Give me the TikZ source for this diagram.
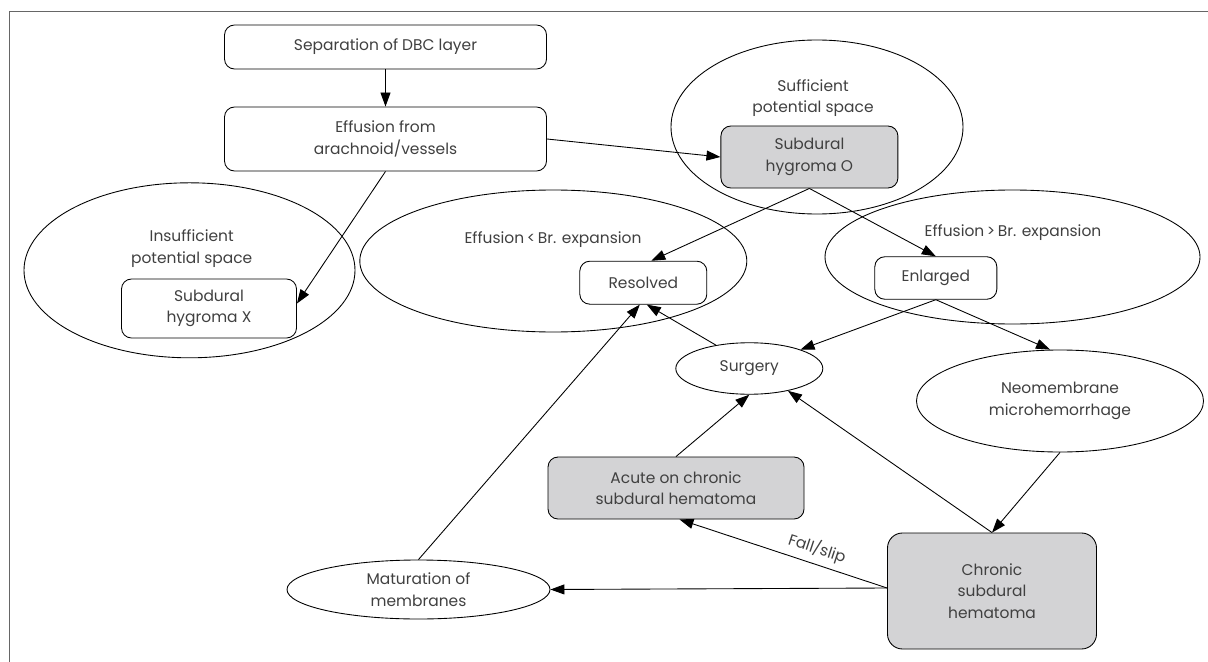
\documentclass[tikz,border=0pt]{standalone}
\usepackage{fontspec}
\setmainfont{Poppins}
\usetikzlibrary{shapes.geometric,arrows.meta}

\definecolor{boxgray}{RGB}{211,211,213}
\definecolor{txtgray}{RGB}{64,64,64}

\begin{document}
\begin{tikzpicture}[x=0.2mm,y=-0.2mm,line width=0.5pt,
   every node/.style={font=\fontsize{8.8}{12.3}\selectfont,text=txtgray,align=center},
   box/.style={draw,rounded corners=2mm,fill=white,inner sep=0pt},
   graybox/.style={box,fill=boxgray},
   oval/.style={draw,ellipse,inner sep=0pt},
   arr/.style={-{Triangle[length=2.8mm,width=2mm]}}]
   \useasboundingbox (0,0) rectangle (1208,662);
   \draw [gray!80!black] (1208,11) -- (9,11) -- (9,662);
   % regions
   \node [oval,minimum width=66.2mm,minimum height=35mm] (insuf) at (189.5,270.3) {};
   \node at (191.7,248.5) (insuftxt) {Insufficient\\potential space};
   \node [oval,minimum width=77.4mm,minimum height=28.4mm] (less) at (553.3,261) {};
   \node at (553,240) (lesstxt) {Effusion\,<\,Br. expansion};
   \node [oval,minimum width=58.4mm,minimum height=34.8mm] (suf) at (817,127) {};
   \node at (813,98) (suftxt) {Sufficient\\potential space};
   \node [oval,minimum width=75mm,minimum height=26.8mm] (more) at (1012.5,257) {};
   \node at (1013,233) (moretxt) {Effusion\,>\,Br. expansion};
   % boxes
   \node [box,minimum width=64.4mm,minimum height=8.8mm] (sep) at (385.5,47) {Separation of DBC layer};
   \node [box,minimum width=64.4mm,minimum height=12.8mm] (eff) at (385.5,139) {Effusion from\\arachnoid/vessels};
   \node [box,minimum width=35mm,minimum height=11.8mm] (hygX) at (209,308.5) {Subdural\\hygroma X};
   \node [graybox,minimum width=35.4mm,minimum height=12.4mm] (hygO) at (809.4,157) {Subdural\\hygroma O};
   \node [box,minimum width=25.4mm,minimum height=8.6mm] (res) at (643.3,282.7) {Resolved};
   \node [box,minimum width=24.4mm,minimum height=8.5mm] (enl) at (935.8,278) {Enlarged};
   \node [oval,minimum width=29.4mm,minimum height=10.3mm] (surg) at (749.3,368.5) {Surgery};
   \node [oval,minimum width=57.4mm,minimum height=20.4mm] (neo) at (1060,401) {Neomembrane\\microhemorrhage};
   \node [graybox,minimum width=51.2mm,minimum height=12.4mm] (acute) at (676,488) {Acute on chronic\\subdural hematoma};
   \node [graybox,rounded corners=3mm,minimum width=41.8mm,minimum height=23.2mm] (chr) at (992,591) {Chronic\\subdural\\hematoma};
   \node [oval,minimum width=52.6mm,minimum height=11.8mm] (mat) at (418.5,589.5) {Maturation of\\membranes};
   % arrows
   \draw [arr] (sep) -- (eff);
   \draw [arr] (eff.south) -- ([yshift=1mm]hygX.east);
   \draw [arr] (eff.east) -- (hygO.west);
   \draw [arr] (hygO.south) -- ([xshift=1.6mm]res.north);
   \draw [arr] (hygO.south) -- (enl.north);
   \draw [arr] (enl.south) -- (surg);
   \draw [arr] (enl.south) -- ([xshift=-2mm]neo.north);
   \draw [arr] (surg.145) -- ([xshift=0.7mm]res.south);
   \draw [arr] (mat.north) -- ([xshift=-0.7mm]res.south);
   \draw [arr] (acute.north) -- (surg.south);
   \draw [arr] (chr.north) -- (surg.-30);
   \draw [arr] (neo.south) -- (chr.north);
   \draw [arr] ([yshift=0.6mm]chr.west) -- node [sloped,above,pos=0.36] (fall) {Fall/slip} ([xshift=0.7mm]acute.south);
   \draw [arr] ([yshift=0.6mm]chr.west) -- (mat.east);
\end{tikzpicture}
\end{document}
